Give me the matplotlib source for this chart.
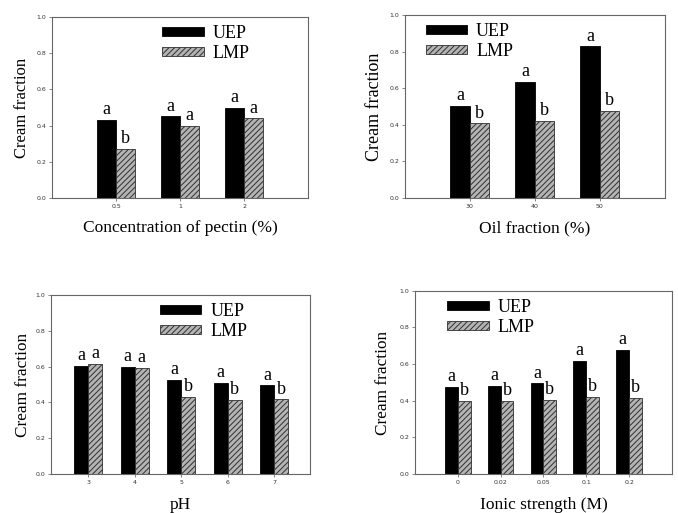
import matplotlib
matplotlib.use("Agg")
import matplotlib.pyplot as plt
import numpy as np

# data
pectin_cats = ["0.5", "1", "2"]
pectin_uep = [0.433, 0.451, 0.497]
pectin_lmp = [0.273, 0.398, 0.440]
pectin_let_uep = ["a", "a", "a"]
pectin_let_lmp = ["b", "a", "a"]

oil_cats = ["30", "40", "50"]
oil_uep = [0.505, 0.635, 0.828]
oil_lmp = [0.407, 0.420, 0.474]
oil_let_uep = ["a", "a", "a"]
oil_let_lmp = ["b", "b", "b"]

ph_cats = ["3", "4", "5", "6", "7"]
ph_uep = [0.603, 0.600, 0.525, 0.510, 0.495]
ph_lmp = [0.615, 0.592, 0.432, 0.413, 0.417]
ph_let_uep = ["a", "a", "a", "a", "a"]
ph_let_lmp = ["a", "a", "b", "b", "b"]

ion_cats = ["0", "0.02", "0.05", "0.1", "0.2"]
ion_uep = [0.474, 0.481, 0.495, 0.617, 0.676]
ion_lmp = [0.399, 0.399, 0.404, 0.419, 0.415]
ion_let_uep = ["a", "a", "a", "a", "a"]
ion_let_lmp = ["b", "b", "b", "b", "b"]

SERIF = ["Liberation Serif", "DejaVu Serif"]
plt.rcParams["hatch.color"] = "#404040"
plt.rcParams["hatch.linewidth"] = 0.7

fig = plt.figure(figsize=(6.78, 5.13), dpi=100)

panels = [
    # rect, cats, uep, lmp, letters, xlabel, xlim, legend anchor, ylabel x, xlabel y, ylabel size
    ([0.0767, 0.614, 0.3776, 0.353], pectin_cats, pectin_uep, pectin_lmp, pectin_let_uep, pectin_let_lmp,
     "Concentration of pectin (%)", (0, 4), (0.43, 0.955), -0.117, -0.166, 12),
    ([0.597, 0.614, 0.3835, 0.357], oil_cats, oil_uep, oil_lmp, oil_let_uep, oil_let_lmp,
     "Oil fraction (%)", (0, 4), (0.08, 0.955), -0.115, -0.164, 13),
    ([0.0752, 0.076, 0.382, 0.349], ph_cats, ph_uep, ph_lmp, ph_let_uep, ph_let_lmp,
     "pH", (0.2, 5.77), (0.42, 0.955), -0.108, -0.173, 12.4),
    ([0.612, 0.076, 0.379, 0.357], ion_cats, ion_uep, ion_lmp, ion_let_uep, ion_let_lmp,
     "Ionic strength (M)", (0, 6), (0.125, 0.955), -0.125, -0.169, 12.4),
]

w = 0.3
for rect, cats, uep, lmp, lu, ll, xl, xlim, anc, ylx, xly, yfs in panels:
    ax = fig.add_axes(rect)
    x = np.arange(1, len(cats) + 1)
    ax.bar(x - w / 2, uep, w, color="black", edgecolor="black", lw=0.6, label="UEP")
    ax.bar(x + w / 2, lmp, w, color="#b4b4b4", edgecolor="#303030", lw=0.6, hatch="//////", label="LMP")
    for xi, v, t in zip(x - w / 2, uep, lu):
        ax.text(xi, v + 0.01, t, ha="center", va="bottom", family=SERIF, fontsize=13)
    for xi, v, t in zip(x + w / 2, lmp, ll):
        ax.text(xi, v + 0.01, t, ha="center", va="bottom", family=SERIF, fontsize=13)
    ax.set_xlim(*xlim)
    ax.set_ylim(0, 1.0)
    ax.set_yticks(np.arange(0, 1.01, 0.2))
    ax.set_yticklabels([f"{t:.1f}" for t in np.arange(0, 1.01, 0.2)])
    ax.set_xticks(x)
    ax.set_xticklabels(cats)
    ax.tick_params(labelsize=4.5, length=2, width=0.5, color="#555555", labelcolor="#333333", pad=2)
    for s in ax.spines.values():
        s.set_color("#666666")
        s.set_linewidth(0.8)
    ax.set_ylabel("Cream fraction", family=SERIF, fontsize=yfs)
    ax.set_xlabel(xl, family=SERIF, fontsize=12.5)
    ax.yaxis.label.set_va("center")
    ax.yaxis.set_label_coords(ylx, 0.5)
    ax.xaxis.label.set_va("center")
    ax.xaxis.set_label_coords(0.5, xly)
    ax.legend(loc="upper left", bbox_to_anchor=anc, frameon=False, borderpad=0, borderaxespad=0,
              handlelength=2.3, handleheight=0.35, handletextpad=0.5, labelspacing=0.15,
              prop={"family": SERIF, "size": 13})

fig.savefig("out.png", dpi=100)
